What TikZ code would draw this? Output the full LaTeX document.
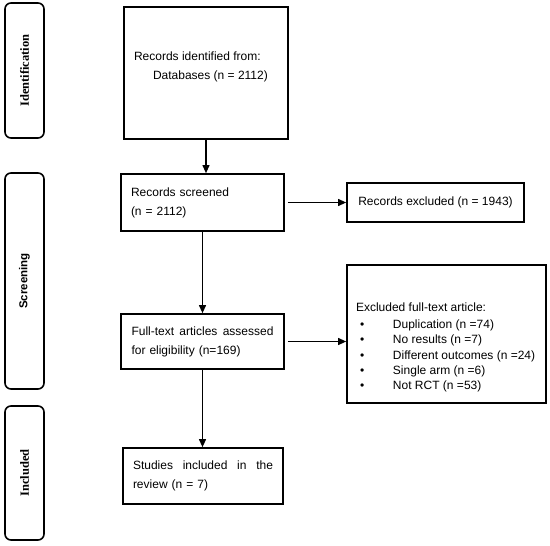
\documentclass[tikz,border=0pt]{standalone}
\usepackage{fontspec}
\setmainfont{Liberation Sans}
\newfontfamily\stagefont{Liberation Serif}
\usetikzlibrary{arrows.meta,positioning}
\tikzset{
  stage/.style={draw, line width=1.6pt, rounded corners=6pt, rotate=90, minimum height=39pt, inner sep=0pt},
  box/.style={draw, line width=1.7pt, inner sep=0pt, align=left, font=\fontsize{12}{19}\selectfont},
  arrow/.style={-{Triangle[length=8pt,width=7pt]}, line width=1.1pt}
}
\newcommand{\bul}{\makebox[37pt][l]{\hspace{4pt}\textbullet}}

\begin{document}
\begin{tikzpicture}[x=1pt, y=-1pt]
  \useasboundingbox (0,0) rectangle (550,546);
  % stage labels on the left
  \node[stage, minimum width=135pt, font=\stagefont\bfseries\fontsize{12.5}{14}\selectfont] (ident) at (24.5,70.5) {Identification};
  \node[stage, minimum width=216pt, font=\bfseries\fontsize{11.5}{14}\selectfont] (screen) at (24.5,281) {Screening};
  \node[stage, minimum width=134pt, font=\stagefont\bfseries\fontsize{12.5}{14}\selectfont] (incl) at (24.5,473) {Included};

  % main flow
  \node[box, minimum width=164pt, minimum height=132pt] (found) at (206,73)
  {\parbox[c][112pt][t]{144pt}{\vspace*{35pt}Records identified from:\\\hspace*{19pt}Databases (n = 2112)}};
  \node[box, minimum width=163pt, minimum height=57pt, text width=143pt] (screened) at (202.5,202.5)
  {Records screened\\(n = 2112)};
  \node[box, minimum width=177pt, minimum height=39pt, align=center] (excluded) at (435.5,202.5)
  {Records excluded (n = 1943)};
  \node[box, minimum width=163pt, minimum height=55pt, text width=142pt] (fulltext) at (202.5,341.5)
  {Full-text\hfill articles\hfill assessed\\for eligibility (n=169)};
  \node[box, minimum width=199pt, minimum height=138pt] (reasons) at (446.5,334)
  {\parbox[c][118pt][t]{181pt}{\fontsize{12}{15.3}\selectfont\vspace*{28pt}%
    Excluded full-text article:\\[1.5pt]
    \bul Duplication (n =74)\\
    \bul No results (n =7)\\
    \bul Different outcomes (n =24)\\
    \bul Single arm (n =6)\\
    \bul Not RCT (n =53)}};
  \node[box, minimum width=160pt, minimum height=56pt, text width=140pt] (studies) at (203,476)
  {Studies\hfill included\hfill in\hfill the\\review (n = 7)};

  \draw[arrow] (found.south) -- (found.south |- screened.north);
  \draw[arrow] (screened.south) -- (fulltext.north);
  \draw[arrow] (fulltext.south) -- (fulltext.south |- studies.north);
  \draw[arrow, shorten <=3pt] (screened.east) -- (excluded.west);
  \draw[arrow, shorten <=3pt] (fulltext.east) -- (fulltext.east -| reasons.west);
\end{tikzpicture}
\end{document}
